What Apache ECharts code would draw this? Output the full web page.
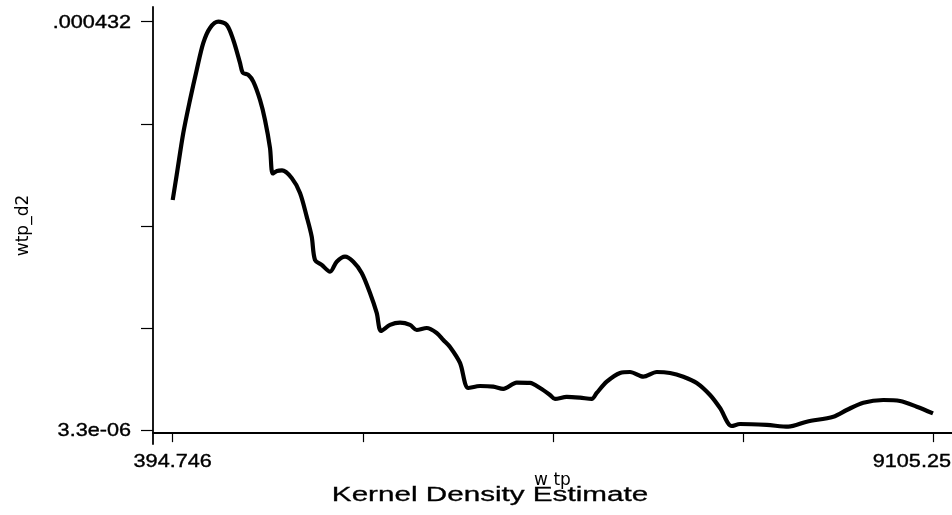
<!DOCTYPE html>
<html>
<head>
<meta charset="utf-8">
<script src="https://cdn.jsdelivr.net/npm/echarts@6/dist/echarts.min.js"></script>
<style>
  html, body { margin: 0; padding: 0; background: #ffffff; }
  #chart { width: 952px; height: 515px; }
</style>
</head>
<body>
<div id="chart"></div>
<script>
// wtp values (x) and estimated density (y)
const wtp = [394.7, 440.6, 516.2, 592.9, 669.7, 745.3, 822.1, 917.2, 1013.4, 1089.0,
  1165.8, 1196.7, 1260.9, 1318.2, 1395.0, 1452.2, 1509.5, 1540.4, 1589.7, 1647.0,
  1758.1, 1853.2, 1930.0, 1987.3, 2025.1, 2101.9, 2197.0, 2273.7, 2368.8, 2463.9,
  2560.1, 2655.2, 2732.0, 2781.3, 2884.4, 2999.0, 3113.6, 3190.3, 3304.9, 3419.5,
  3495.1, 3571.8, 3686.4, 3781.5, 3915.5, 4067.9, 4182.5, 4336.0, 4488.4, 4603.0,
  4717.6, 4774.9, 4908.9, 5061.3, 5195.4, 5252.6, 5367.2, 5519.6, 5634.2, 5786.6,
  5940.1, 6092.5, 6244.9, 6398.4, 6550.8, 6665.4, 6799.4, 6894.5, 7200.4, 7447.9,
  7658.7, 7963.5, 8117.0, 8307.2, 8536.3, 8727.6, 8918.9, 9105.2]
// density in units of 1e-6
const wtpD2 = [244.8, 271.1, 315.2, 349.8, 381.3, 409.7, 425.4, 432.0, 428.6, 412.8,
  388.7, 378.5, 376.1, 369.0, 349.8, 328.8, 299.4, 272.6, 275.3, 275.8,
  267.9, 252.2, 227.3, 206.3, 181.8, 176.6, 169.5, 180.0, 185.3, 180.0,
  168.2, 147.2, 126.2, 107.3, 113.6, 116.0, 113.6, 108.3, 110.4, 105.2,
  97.8, 90.5, 73.7, 47.4, 49.5, 48.8, 46.4, 53.0, 52.7, 47.4,
  40.1, 35.9, 38.0, 37.2, 35.9, 42.2, 54.0, 63.2, 64.2, 59.3,
  64.2, 63.2, 59.3, 52.7, 40.1, 26.4, 7.5, 9.6, 8.6, 6.8,
  12.0, 17.3, 24.3, 32.0, 34.8, 33.8, 27.8, 20.8]

const xTicks = [394.746, 2572.372, 4749.998, 6927.624, 9105.25]
const xLabelValues = [394.746, 9105.25]
const xTickLabels = ['394.746', '9105.25']
const yTicks = [3.3e-6, 110.475e-6, 217.65e-6, 324.825e-6, 432e-6]
const yLabelValues = [3.3e-6, 432e-6]
const yTickLabels = ['3.3e-06', '.000432']

const xMin = 169.0, xMax = 9323.0
const yMin = -11.4e-6, yMax = 447.4e-6

const seriesData = wtp.map((x, i) => [x, wtpD2[i] * 1e-6])

const chart = echarts.init(document.getElementById('chart'))

const option = {
  animation: false,
  backgroundColor: '#ffffff',
  grid: { left: 153, right: 0, top: 7, bottom: 71 },
  xAxis: {
    type: 'value',
    min: xMin,
    max: xMax,
    name: 'w tp',
    nameLocation: 'middle',
    nameGap: 28,
    nameTextStyle: { fontFamily: 'DejaVu Sans', fontSize: 17, color: '#000' },
    axisLine: { lineStyle: { color: '#000', width: 1.8 } },
    axisTick: { show: true, inside: false, length: 9, customValues: xTicks, lineStyle: { color: '#000', width: 1.2 } },
    axisLabel: { show: false },
    splitLine: { show: false }
  },
  yAxis: {
    type: 'value',
    min: yMin,
    max: yMax,
    name: 'wtp_d2',
    nameLocation: 'middle',
    nameGap: 121,
    nameRotate: 90,
    nameTextStyle: { fontFamily: 'DejaVu Sans', fontSize: 17, color: '#000' },
    axisLine: { lineStyle: { color: '#000', width: 1.8 } },
    axisTick: { show: true, inside: false, length: 12, customValues: yTicks, lineStyle: { color: '#000', width: 1.2 } },
    axisLabel: { show: false },
    splitLine: { show: false }
  },
  series: [
    {
      type: 'line',
      data: seriesData,
      smooth: 0.3,
      showSymbol: false,
      symbol: 'none',
      lineStyle: { color: '#000', width: 4.2 }
    }
  ]
}

chart.setOption(option)

// tick labels: wide Helvetica-like text, placed through the axes' own scales
const toPx = (x, y) => chart.convertToPixel({ gridIndex: 0 }, [x, y])
const labelStyle = { fontFamily: 'Liberation Sans', fontSize: 18.5, fill: '#000', stroke: '#000', lineWidth: 0.4 }
const graphics = []

xLabelValues.forEach((v, i) => {
  const p = toPx(v, yMin)
  const last = i === xLabelValues.length - 1
  graphics.push({
    type: 'text',
    x: last ? chart.getWidth() - 1 : p[0],
    y: p[1] + 8,
    scaleX: 1.17,
    style: { ...labelStyle, text: xTickLabels[i], x: 0, y: 0, align: last ? 'right' : 'center', verticalAlign: 'top' }
  })
})

yLabelValues.forEach((v, i) => {
  const p = toPx(xMin, v)
  graphics.push({
    type: 'text',
    x: p[0] - 22,
    y: p[1] + 1,
    scaleX: 1.17,
    style: { ...labelStyle, text: yTickLabels[i], x: 0, y: 0, align: 'right', verticalAlign: 'middle' }
  })
})

graphics.push({
  type: 'text',
  x: 490,
  y: 506,
  scaleX: 1.52,
  style: {
    text: 'Kernel Density Estimate',
    x: 0,
    y: 0,
    align: 'center',
    verticalAlign: 'bottom',
    fontFamily: 'Liberation Sans',
    fontSize: 19.5,
    fill: '#000',
    stroke: '#000',
    lineWidth: 0.3
  }
})

chart.setOption({ graphic: graphics })
</script>
</body>
</html>
